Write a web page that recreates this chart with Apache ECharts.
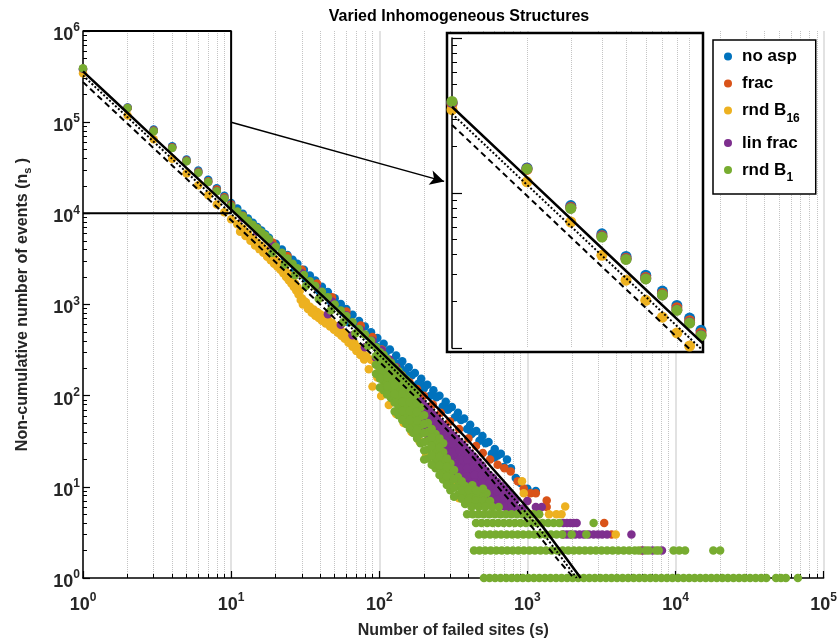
<!DOCTYPE html>
<html>
<head>
<meta charset="utf-8">
<script src="https://cdn.jsdelivr.net/npm/echarts@6/dist/echarts.min.js"></script>
<style>
  html, body { margin: 0; padding: 0; background: #fff; }
  #chart { width: 840px; height: 644px; }
</style>
</head>
<body>
<div id="chart"></div>
<script>
// series names as in the legend
const names = ['no asp', 'frac', 'rnd B16', 'lin frac', 'rnd B1'];
const colors = ['#0072BD', '#D95319', '#EDB120', '#7E2F8E', '#77AC30'];

// decade tick labels
const xTicks = [1, 10, 100, 1000, 10000, 100000];
const yTicks = [1, 10, 100, 1000, 10000, 100000, 1000000];

// [s, n_s]
const noAsp = [
  [1,3.8e5],[2,1.45e5],[3,8.3e4],[4,5.45e4],[5,3.9e4],[6,2.95e4],[7,2.33e4],[8,1.88e4],[9,1.56e4],[10,1.3e4],
  [11,11300],[12,9900],[13,8800],[14,7900],[15,7100],[16,6500],[17,5900],[18,5400],[20,4650],[22,4000],[24,3500],
  [26,3100],[28,2800],[31,2400],[34,2080],[37,1830],[41,1570],[45,1370],[50,1170],[55,1010],[60,890],[66,770],
  [73,660],[80,575],[88,495],[97,430],[107,370],[118,320],[130,275],[143,238],[158,205],[174,177],[192,153],
  [211,132],[232,115],[255,100],[281,86],[309,75],[340,65],[374,56],[411,48],[452,41],[497,36],[547,31],[602,26],
  [662,23],[728,20],[774,16],[835,12.5],[900,11],[1000,9.5],[1140,9],
  [19,4100],[23,3100],[27,2400],[32,1900],[39,1420],[47,1080],[57,820],[69,620],[84,450],[102,330],[124,245],
  [150,180],[183,135],[221,100],[268,76],[325,58],[392,43],[475,32],[575,23],[695,16.5],
  [43,1320],[52,1000],[63,745],[76,560],[92,415],[112,305],[137,225],[166,168],[201,128],[243,96],[295,72],
  [357,54],[431,40],[522,30],[630,22],[760,15.5],
  [62,640],[95,350],[140,200],[200,120],[290,70],[420,38],[600,21]
];
const frac = [
  [1,3.75e5],[2,1.42e5],[3,8.1e4],[4,5.3e4],[5,3.8e4],[6,2.85e4],[7,2.25e4],[8,1.82e4],[9,1.5e4],[10,1.25e4],
  [12,9400],[15,6800],[19,4800],[24,3400],[30,2400],[38,1700],[48,1200],[60,840],[75,590],[90,440],[104,320],
  [117,240],[130,205],[142,168],[160,140],[180,118],[200,100],[230,80],[260,65],[300,52],[346,43],[400,34],
  [450,28],[500,23.5],[560,20],[630,17.5],[700,16],[771,14.7],[860,11.5],[945,9.6],[1050,8.5],[1140,8.5],
  [1350,7.1],[1350,6],[3300,4],[3700,3]
];
const rndB16 = [
  [1,3.45e5],[2,1.18e5],[3,6.5e4],[4,3.96e4],[5,2.74e4],[6,2.03e4],[7,1.58e4],[8,1.25e4],[9,1.03e4],[10,8600],
  [11,7600],[12,6800],[13,6000],[14,5300],[15,4800],[16,4400],[17,4000],[18,3650],[19,3350],[20,3100],[21,2850],
  [22,2600],[23,2400],[24,2200],[25,2050],[26,1900],[27,1700],[28,1550],[29,1400],
  [30,1170],[31,1100],[32,1060],[34,945],[36,880],[38,830],[40,780],[42,740],[45,685],[48,630],[51,580],[54,535],
  [57,495],[60,460],[64,415],[68,375],[72,340],[77,300],
  [11.5,6300],[12.5,5650],[13.5,5000],[14.5,4450],[15.5,4050],[16.5,3700],[17.5,3350],[18.5,3050],[19.5,2800],
  [20.5,2600],[21.5,2400],[22.5,2200],[23.5,2000],[24.5,1850],[25.5,1700],[26.5,1560],[27.5,1420],[28.5,1290],
  [29.5,1120],[30.5,1000],[33,890],[35,810],[37,755],[39,710],[41,665],[43.5,620],[46.5,575],[49.5,530],
  [52.5,490],[55.5,455],[58.5,420],[62,380],[66,345],[70,310],[74.5,280],[79,250],
  [82,270],[88,248],[94,225],[100,203],[106,185],[112,167],[118,149],[124,135],[130,124],[137,112],[145,99],
  [153,88],[162,77],[171,69],[181,61],[192,52],[205,43],[218,36],[232,30],[248,24],[265,20],[282,16],[305,13.5],
  [85,195],[97,158],[109,130],[121,104],[133,86],[149,70],[166,56],[186,43],[210,32],[238,22.5],[270,15.5],
  [90,126],[103,99],[116,79],[130,63],[146,50],[165,40],[187,31.5],[212,24],[240,19],[275,12.6],
  [207,22],[250,17],[281,14.6],[296,13.5],[320,11],[346,7.5],[920,11.5],[945,8.5],[1000,7],[1050,5],[1200,5],
  [1400,5],[1570,5],[1700,5],[1800,6.1],[3950,3],[5900,2]
];
const linFrac = [
  [1,3.85e5],[2,1.44e5],[3,8.0e4],[4,5.25e4],[5,3.75e4],[6,2.8e4],[7,2.2e4],[8,1.76e4],[9,1.46e4],[10,1.21e4],
  [12,8900],[15,6300],[19,4400],[24,3100],[30,2200],[38,1550],[48,1080],[60,760],[75,530],[90,400],[104,315],
  [117,250],[130,205],[145,160],
  [45,780],[55,600],[66,460],[80,340],[95,260],[110,200],[125,160],[140,135],
  [160,110],[160,88],[160,70],
  [186,88],[186,70],[186,56],[186,45],
  [205,76],[205,61],[205,49],[205,39],
  [230,62],[230,50],[230,40],[230,32],
  [260,50],[260,40],[260,32],[260,26],[260,21],
  [292,41],[292,33],[292,26],[292,21],[292,17],
  [328,34],[328,27],[328,22],[328,17.5],[328,14],
  [370,28],[370,22.5],[370,18],[370,14.5],[370,11.5],
  [415,23],[415,18.5],[415,15],[415,12],[415,9.5],
  [466,19],[466,15],[466,12],[466,9.7],[466,7.8],
  [523,15],[523,12],[523,9.6],[523,7.7],[523,6.2],
  [587,12.5],[587,10],[587,8],[587,6.4],
  [660,10.3],[660,8.2],[660,6.6],
  [740,8.6],[740,6.9],[740,5.6],
  [173,98],[173,78],[173,62],[173,50],
  [195,82],[195,65],[195,52],[195,42],
  [217,69],[217,55],[217,44],[217,35],
  [245,56],[245,45],[245,36],[245,29],[245,23],
  [276,45],[276,36],[276,29],[276,23],[276,18.5],
  [310,37],[310,30],[310,24],[310,19],[310,15],
  [349,31],[349,25],[349,20],[349,16],[349,12.5],
  [392,25],[392,20],[392,16],[392,13],[392,10.5],
  [440,21],[440,17],[440,13.5],[440,11],[440,8.6],
  [494,17],[494,13.5],[494,11],[494,8.7],[494,7],
  [554,13.5],[554,11],[554,8.8],[554,7],
  [623,11.3],[623,9],[623,7.2],
  [700,9.4],[700,7.6],[700,6.1],
  [785,7.8],[785,6.3],
  [830,7],[830,5.8],[930,5.8],[1000,7],[1140,6],[1250,6],
  [1750,4],[1850,4],[1950,4],[2050,4],[2150,4],
  [1750,3],[1850,3],[1950,3],[2100,3],[2250,3],[2400,3],[2600,3],[2800,3],[3000,3],[3200,3],[3450,3],[5040,3],
  [6000,2],[7000,2],[8100,2]
];
const rndB1 = [
  [1,3.9e5],[2,1.43e5],[3,7.95e4],[4,5.2e4],[5,3.73e4],[6,2.79e4],[7,2.2e4],[8,1.75e4],[9,1.45e4],[10,1.2e4],
  [11,10500],[12,9300],[13,8300],[14,7500],[15,6800],[16,6200],[17,5700],[18,5200],[20,4300],[22,3700],[24,3200],
  [26,2800],[28,2500],[31,2100],[34,1800],[37,1600],[41,1380],[45,1200],[50,1000],[55,860],[60,750],[66,640],
  [73,540],[80,470],[88,400],
  [19,3700],[23,2750],[27,2100],[32,1600],[39,1150],[47,860],[57,640],[69,480],[84,350],
  [95,340],[95,272],[95,218],[95,174],
  [107,280],[107,224],[107,180],[107,144],[107,115],
  [120,230],[120,184],[120,147],[120,118],[120,94],
  [135,185],[135,148],[135,118],[135,95],[135,76],[135,61],
  [152,150],[152,120],[152,96],[152,77],[152,61],[152,49],
  [170,120],[170,96],[170,77],[170,61],[170,49],[170,39],
  [190,74],[190,59],[190,47],[190,38],[190,30],
  [213,50],[213,40],[213,32],[213,25.6],[213,20.5],
  [240,38],[240,31],[240,24.5],[240,19.6],[240,16],
  [270,30],[270,24],[270,19],[270,15],[270,12],
  [302,18],[302,14.3],[302,11.5],[302,9.2],
  [340,12.8],[340,10.2],[340,8.2],
  [380,10.2],[380,8.2],[380,6.5],
  [425,10.4],[425,8.3],[425,6.6],
  [475,8.4],[475,6.7],
  [530,8.5],[530,6.8],
  [101,300],[101,240],[101,192],[101,154],[101,123],
  [113,250],[113,200],[113,160],[113,128],[113,103],
  [127,205],[127,164],[127,131],[127,105],[127,84],[127,67],
  [143,165],[143,132],[143,106],[143,85],[143,68],[143,54],
  [161,133],[161,106],[161,85],[161,68],[161,54],[161,43],
  [180,104],[180,83],[180,66],[180,53],[180,42],[180,34],
  [201,61],[201,49],[201,39],[201,31],[201,25],[201,20],
  [226,43],[226,35],[226,28],[226,22],[226,17.5],
  [255,34],[255,27],[255,21.5],[255,17],[255,13.5],
  [286,20.5],[286,16.5],[286,13],[286,10.5],
  [320,15.3],[320,12.2],[320,9.8],[320,7.8],
  [360,11.5],[360,9.2],[360,7.4],
  [402,9.3],[402,7.4],
  [450,9.2],[450,7.4],
  [502,9.5],[502,7.6],
  [400,7],[450,7],[500,7],[560,7],[420,6],[470,6],[520,6],[580,6],[640,6],
  [392,5],[428,5],[466,5],[508,5],[554,5],[604,5],[658,5],[717,5],[782,5],[852,5],[929,5],[1013,5],[1104,5],[1200,5],
  [450,4],[490,4],[535,4],[583,4],[635,4],[692,4],[755,4],[823,4],[897,4],[978,4],[1066,4],[1162,4],[1266,4],
  [1380,4],[1504,4],[1640,4],[2800,4],
  [471,3],[513,3],[560,3],[610,3],[665,3],[725,3],[790,3],[861,3],[938,3],[1023,3],[1115,3],[1215,3],[1325,3],
  [1444,3],[1574,3],[1716,3],[1990,3],[2500,3],
  [436,2],[475,2],[518,2],[565,2],[616,2],[671,2],[731,2],[797,2],[869,2],[947,2],[1032,2],[1125,2],[1226,2],
  [1337,2],[1457,2],[1588,2],[1731,2],[1887,2],[2057,2],[2242,2],[2444,2],[2664,2],[2903,2],[3165,2],[3450,2],
  [3760,2],[4098,2],[4467,2],[4869,2],[5307,2],[5640,2],[6300,2],[6600,2],[7400,2],[7700,2],[9700,2],[10600,2],
  [11600,2],[18000,2],[20000,2],
  [509,1],[555,1],[605,1],[659,1],[719,1],[783,1],[854,1],[931,1],[1015,1],[1106,1],[1205,1],[1314,1],[1432,1],
  [1561,1],[1701,1],[1855,1],[2021,1],[2203,1],[2402,1],[2618,1],[2853,1],[3110,1],[3390,1],[3695,1],[4028,1],
  [4390,1],[4785,1],[5216,1],[5686,1],[6197,1],[6755,1],[7363,1],[8026,1],[8748,1],[9535,1],[10393,1],[11329,1],
  [12348,1],[13460,1],[14671,1],[15991,1],[17430,1],[19000,1],[20710,1],[22573,1],[24605,1],[26819,1],[29233,1],
  [31864,1],[34732,1],[37857,1],[41000,1],[47700,1],[51500,1],[55600,1],[67000,1]
];

// fitted curves
const fitSolid = [[1,3.6e5],[2,1.26e5],[4,4.4e4],[10,1.1e4],[20,3800],[40,1310],[86,400],[150,165],[200,104],[300,53],[400,32],[600,15],[877,7.5],[1200,4.1],[1600,2.2],[2290,1]];
const fitDotted = [[1,3.25e5],[2,1.13e5],[4,3.95e4],[10,9900],[20,3400],[40,1180],[86,355],[150,146],[200,92],[300,46],[400,28],[600,13],[877,6.4],[1200,3.5],[1600,1.9],[2150,1]];
const fitDashed = [[1,2.75e5],[2,9.6e4],[4,3.35e4],[10,8400],[20,2900],[40,1000],[86,300],[150,124],[200,78],[300,39],[400,24],[600,11],[877,5.4],[1200,2.9],[1600,1.6],[2060,1]];

// zoom box and arrow (data space)
const zoomBox = [[1,1e6],[10,1e6],[10,1e4],[1,1e4]];
const arrowFrom = [10,1e5];
const arrowTo = [274,22400];

const FONT = 'Liberation Sans, Arial, sans-serif';
const INK = '#000';
const datasets = [noAsp, frac, rndB16, linFrac, rndB1];
const fits = [
  { data: fitSolid, type: 'solid', width: 2.5 },
  { data: fitDotted, type: 'dotted', width: 2 },
  { data: fitDashed, type: [6, 4], width: 2 }
];

const powLabel = v => '{b|10}{e|' + Math.round(Math.log10(v)) + '}';
const tickRich = {
  b: { fontSize: 18, fontWeight: 'bold', color: '#262626', fontFamily: FONT, padding: [8, 0, 0, 0] },
  e: { fontSize: 12, fontWeight: 'bold', color: '#262626', fontFamily: FONT, padding: [0, 0, 6, 0] }
};

const series = [];
datasets.forEach((d, i) => {
  series.push({
    name: names[i], type: 'scatter', data: d, symbolSize: 8.5,
    itemStyle: { color: colors[i], opacity: 1 }, z: 2, silent: true
  });
});
fits.forEach(f => {
  series.push({
    type: 'line', data: f.data, showSymbol: false, smooth: 0.3, z: 3, silent: true,
    lineStyle: { color: INK, width: f.width, type: f.type }
  });
});
series.push({
  type: 'line', data: zoomBox, showSymbol: false, z: 4, silent: true, clip: false,
  lineStyle: { color: INK, width: 2 },
  markLine: {
    silent: true, symbol: ['none', 'arrow'], symbolSize: [11, 14],
    label: { show: false },
    lineStyle: { color: INK, width: 1.5, type: 'solid' },
    data: [[{ coord: arrowFrom }, { coord: arrowTo }]]
  }
});
// inset
datasets.forEach((d, i) => {
  series.push({
    name: names[i], type: 'scatter', xAxisIndex: 1, yAxisIndex: 1,
    data: d.filter(p => p[0] <= 11), symbolSize: 11,
    itemStyle: { color: colors[i], opacity: 1 }, z: 12, silent: true
  });
});
fits.forEach(f => {
  series.push({
    type: 'line', xAxisIndex: 1, yAxisIndex: 1, data: f.data.filter(p => p[0] <= 20),
    showSymbol: false, z: 13, silent: true,
    lineStyle: { color: INK, width: f.width, type: f.type }
  });
});

const chart = echarts.init(document.getElementById('chart'), null, { renderer: 'canvas' });
chart.setOption({
  animation: false,
  backgroundColor: '#fff',
  textStyle: { fontFamily: FONT },
  title: {
    text: 'Varied Inhomogeneous Structures', left: 454, top: 4, textAlign: 'center',
    textStyle: { fontSize: 16, fontWeight: 'bold', color: INK, fontFamily: FONT }
  },
  legend: {
    data: names, orient: 'vertical', left: 713, top: 40,
    padding: [8, 16, 10, 11], itemGap: 10, itemWidth: 8, itemHeight: 8, icon: 'circle',
    backgroundColor: '#fff', borderColor: INK, borderWidth: 1.5,
    formatter: n => n.replace(/B(\d+)/, 'B{s|$1}'),
    textStyle: {
      fontSize: 17, fontWeight: 'bold', color: INK, fontFamily: FONT, padding: [0, 0, 0, 5],
      rich: { s: { fontSize: 12, fontWeight: 'bold', color: INK, fontFamily: FONT, padding: [16, 0, 0, 0] } }
    }
  },
  graphic: [{
    type: 'rect', z: 10, silent: true,
    shape: { x: 447, y: 33, width: 256, height: 319 },
    style: { fill: '#fff', stroke: INK, lineWidth: 2.5 }
  }],
  grid: [
    { left: 83, right: 14, top: 31, bottom: 64 },
    { left: 452, top: 38, width: 249, height: 310, z: 11 }
  ],
  xAxis: [{
    type: 'log', logBase: 10, min: xTicks[0], max: xTicks[xTicks.length - 1], gridIndex: 0,
    name: 'Number of failed sites (s)', nameLocation: 'middle', nameGap: 45,
    nameTextStyle: { fontSize: 16, fontWeight: 'bold', color: '#262626', fontFamily: FONT },
    axisLine: { lineStyle: { color: INK, width: 1.5 } },
    axisTick: { inside: true, length: 7, lineStyle: { color: INK, width: 1.2 } },
    minorTick: { show: true, splitNumber: 9, length: 4, lineStyle: { color: INK, width: 1 } },
    axisLabel: { formatter: powLabel, rich: tickRich, margin: 10 },
    splitLine: { show: true, lineStyle: { color: '#d9d9d9', width: 1.5 } },
    minorSplitLine: { show: true, lineStyle: { color: '#c4c4c4', width: 1, type: 'dotted' } }
  }, {
    type: 'log', logBase: 10, min: 1, max: 10, gridIndex: 1, z: 11,
    axisLine: { show: false },
    axisTick: { show: false },
    axisLabel: { show: false },
    splitLine: { show: false },
    minorTick: { show: false, splitNumber: 9 },
    minorSplitLine: { show: true, lineStyle: { color: '#c4c4c4', width: 1, type: 'dotted' } }
  }],
  yAxis: [{
    type: 'log', logBase: 10, min: yTicks[0], max: yTicks[yTicks.length - 1], gridIndex: 0,
    name: 'Non-cumulative number of events (n{s|s} )', nameLocation: 'middle', nameGap: 50, nameRotate: 90,
    nameTextStyle: {
      fontSize: 16, fontWeight: 'bold', color: '#262626', fontFamily: FONT,
      rich: { s: { fontSize: 11, fontWeight: 'bold', color: '#262626', fontFamily: FONT, padding: [10, 0, 0, 0] } }
    },
    axisLine: { lineStyle: { color: INK, width: 1.5 } },
    axisTick: { inside: true, length: 7, lineStyle: { color: INK, width: 1.2 } },
    minorTick: { show: true, splitNumber: 9, length: 4, lineStyle: { color: INK, width: 1 } },
    axisLabel: { formatter: powLabel, rich: tickRich, margin: 3 },
    splitLine: { show: false }
  }, {
    type: 'log', logBase: 10, min: 1e4, max: 1e6, gridIndex: 1, z: 11,
    axisLine: { lineStyle: { color: INK, width: 1.5 } },
    axisTick: { inside: true, length: 10, lineStyle: { color: INK, width: 1.2 } },
    minorTick: { show: true, splitNumber: 9, length: 5, lineStyle: { color: INK, width: 1 } },
    axisLabel: { show: false },
    splitLine: { show: false }
  }],
  series: series
});
</script>
</body>
</html>
